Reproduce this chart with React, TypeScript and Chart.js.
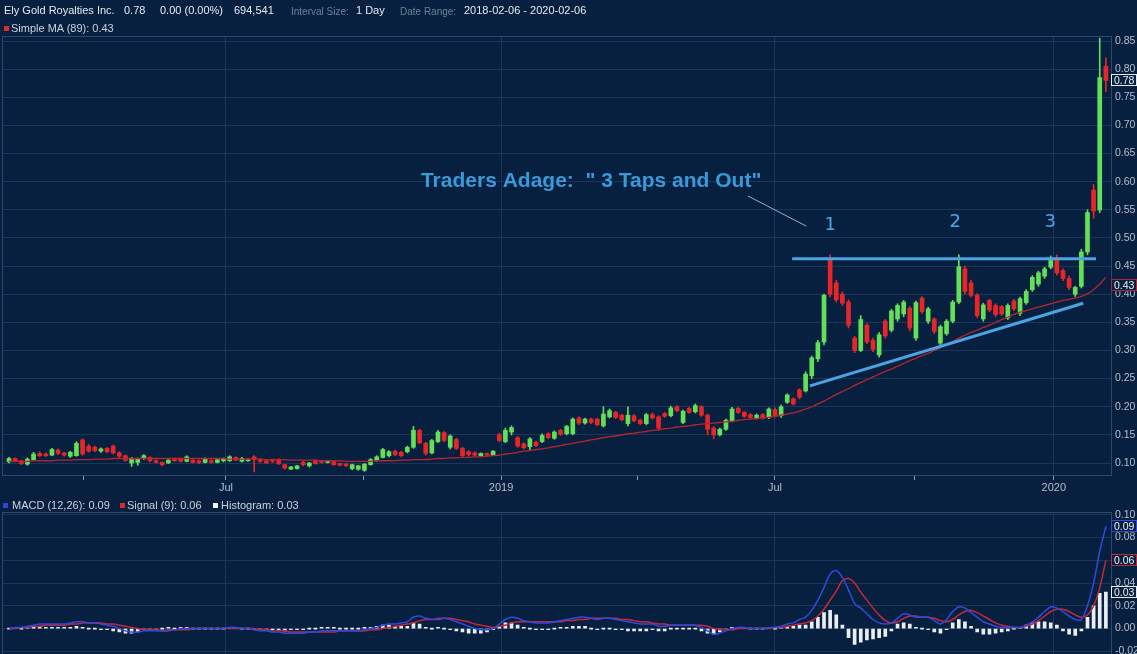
import React, { useEffect, useRef } from 'react';
import { Chart, registerables } from 'chart.js';

Chart.register(...registerables);

// ---------- DATA ----------
const opens = [
  0.102,0.108,0.104,0.098,0.106,0.117,0.116,0.114,0.123,0.118,
  0.112,0.113,0.141,0.130,0.128,0.121,0.126,0.130,0.118,0.113,
  0.100,0.101,0.108,0.110,0.104,0.101,0.100,0.107,0.107,0.103,
  0.105,0.104,0.101,0.104,0.101,0.104,0.104,0.110,0.103,0.104,
  0.111,0.106,0.104,0.106,0.106,0.097,0.089,0.090,0.101,0.095,
  0.104,0.104,0.101,0.102,0.099,0.098,0.090,0.089,0.087,0.097,
  0.104,0.110,0.113,0.121,0.119,0.120,0.128,0.158,0.135,0.118,
  0.138,0.154,0.128,0.142,0.126,0.120,0.118,0.113,0.117,0.114,
  0.150,0.138,0.155,0.145,0.134,0.129,0.137,0.138,0.152,0.144,
  0.158,0.152,0.152,0.180,0.171,0.178,0.178,0.166,0.182,0.190,
  0.185,0.170,0.184,0.176,0.170,0.186,0.182,0.188,0.184,0.200,
  0.172,0.197,0.191,0.200,0.185,0.162,0.150,0.160,0.175,0.197,
  0.190,0.186,0.180,0.186,0.181,0.195,0.184,0.208,0.214,0.230,
  0.228,0.255,0.285,0.315,0.461,0.420,0.400,0.386,0.322,0.300,
  0.345,0.318,0.292,0.352,0.336,0.356,0.365,0.375,0.322,0.393,
  0.352,0.356,0.313,0.330,0.352,0.386,0.445,0.420,0.398,0.356,
  0.389,0.380,0.378,0.358,0.388,0.366,0.385,0.408,0.418,0.432,
  0.448,0.462,0.442,0.428,0.400,0.414,0.475,0.585,0.550,0.805,
];
const highs = [
  0.110,0.109,0.105,0.109,0.119,0.120,0.118,0.126,0.125,0.119,
  0.121,0.138,0.143,0.133,0.130,0.127,0.128,0.132,0.120,0.114,
  0.110,0.109,0.115,0.111,0.106,0.102,0.106,0.109,0.108,0.113,
  0.106,0.105,0.109,0.106,0.108,0.109,0.113,0.111,0.110,0.108,
  0.113,0.108,0.105,0.107,0.108,0.098,0.094,0.096,0.103,0.101,
  0.106,0.105,0.105,0.103,0.100,0.099,0.098,0.096,0.099,0.108,
  0.113,0.126,0.122,0.123,0.121,0.130,0.165,0.160,0.137,0.142,
  0.158,0.156,0.150,0.144,0.128,0.122,0.120,0.118,0.118,0.122,
  0.153,0.162,0.166,0.147,0.136,0.145,0.139,0.152,0.154,0.157,
  0.160,0.167,0.180,0.182,0.180,0.180,0.180,0.200,0.196,0.192,
  0.187,0.200,0.186,0.178,0.188,0.189,0.184,0.190,0.201,0.202,
  0.194,0.199,0.205,0.202,0.187,0.165,0.162,0.178,0.199,0.199,
  0.192,0.188,0.187,0.188,0.198,0.198,0.203,0.223,0.216,0.232,
  0.262,0.290,0.318,0.400,0.470,0.425,0.404,0.390,0.325,0.362,
  0.348,0.322,0.332,0.355,0.373,0.383,0.389,0.378,0.388,0.396,
  0.377,0.358,0.345,0.355,0.389,0.470,0.450,0.425,0.401,0.384,
  0.391,0.383,0.380,0.383,0.391,0.395,0.408,0.433,0.441,0.448,
  0.468,0.470,0.445,0.432,0.414,0.480,0.550,0.595,0.855,0.820,
];
const lows = [
  0.100,0.102,0.097,0.096,0.105,0.111,0.111,0.113,0.115,0.112,
  0.110,0.112,0.114,0.119,0.120,0.119,0.118,0.116,0.110,0.103,
  0.094,0.096,0.106,0.102,0.100,0.095,0.099,0.103,0.102,0.102,
  0.100,0.099,0.100,0.100,0.100,0.102,0.103,0.104,0.102,0.103,
  0.084,0.101,0.099,0.101,0.097,0.089,0.088,0.089,0.095,0.093,
  0.098,0.100,0.100,0.096,0.095,0.094,0.088,0.087,0.085,0.096,
  0.103,0.109,0.111,0.113,0.111,0.118,0.126,0.134,0.114,0.116,
  0.136,0.138,0.125,0.124,0.110,0.112,0.112,0.112,0.113,0.113,
  0.138,0.136,0.150,0.128,0.125,0.122,0.129,0.136,0.143,0.142,
  0.149,0.150,0.150,0.168,0.169,0.170,0.166,0.164,0.180,0.179,
  0.175,0.166,0.173,0.168,0.168,0.178,0.158,0.181,0.182,0.191,
  0.170,0.188,0.189,0.183,0.150,0.143,0.148,0.158,0.173,0.188,
  0.181,0.179,0.178,0.178,0.179,0.182,0.181,0.206,0.203,0.214,
  0.226,0.250,0.280,0.310,0.395,0.386,0.380,0.340,0.296,0.298,
  0.312,0.298,0.288,0.322,0.333,0.352,0.360,0.335,0.318,0.366,
  0.348,0.330,0.308,0.327,0.349,0.383,0.400,0.395,0.358,0.352,
  0.369,0.360,0.362,0.355,0.371,0.362,0.382,0.405,0.414,0.428,
  0.445,0.434,0.424,0.408,0.396,0.411,0.470,0.535,0.545,0.760,
];
const closes = [
  0.108,0.104,0.099,0.107,0.116,0.113,0.113,0.124,0.117,0.114,
  0.119,0.135,0.116,0.121,0.122,0.125,0.120,0.118,0.112,0.105,
  0.108,0.107,0.113,0.104,0.101,0.097,0.105,0.104,0.103,0.111,
  0.101,0.101,0.107,0.101,0.106,0.108,0.111,0.105,0.108,0.106,
  0.106,0.103,0.100,0.103,0.099,0.091,0.093,0.095,0.097,0.100,
  0.099,0.101,0.104,0.097,0.096,0.095,0.097,0.095,0.098,0.106,
  0.111,0.124,0.120,0.115,0.113,0.128,0.158,0.136,0.117,0.140,
  0.155,0.140,0.148,0.126,0.113,0.115,0.114,0.117,0.114,0.121,
  0.140,0.158,0.163,0.130,0.127,0.143,0.131,0.149,0.145,0.155,
  0.151,0.165,0.178,0.171,0.178,0.172,0.168,0.187,0.193,0.181,
  0.177,0.185,0.175,0.170,0.186,0.180,0.162,0.183,0.198,0.193,
  0.192,0.190,0.202,0.185,0.160,0.150,0.160,0.176,0.196,0.190,
  0.183,0.181,0.185,0.180,0.196,0.184,0.200,0.221,0.205,0.217,
  0.258,0.287,0.314,0.398,0.400,0.390,0.384,0.345,0.300,0.355,
  0.315,0.302,0.328,0.326,0.370,0.380,0.386,0.340,0.385,0.369,
  0.374,0.334,0.342,0.352,0.386,0.449,0.405,0.398,0.362,0.381,
  0.372,0.364,0.365,0.380,0.374,0.392,0.405,0.430,0.438,0.445,
  0.460,0.438,0.428,0.412,0.412,0.475,0.545,0.548,0.785,0.780,
];
const sma89 = [
  0.103,0.103,0.103,0.103,0.104,0.104,0.104,0.104,0.105,0.105,
  0.105,0.106,0.106,0.106,0.107,0.107,0.107,0.108,0.108,0.108,
  0.108,0.108,0.108,0.108,0.108,0.108,0.108,0.108,0.108,0.108,
  0.108,0.108,0.108,0.108,0.108,0.108,0.107,0.107,0.107,0.107,
  0.107,0.107,0.106,0.106,0.106,0.106,0.105,0.105,0.105,0.105,
  0.105,0.104,0.104,0.104,0.104,0.103,0.103,0.103,0.103,0.103,
  0.104,0.104,0.104,0.104,0.105,0.105,0.106,0.106,0.106,0.107,
  0.108,0.108,0.109,0.109,0.110,0.110,0.111,0.111,0.112,0.113,
  0.114,0.116,0.117,0.119,0.121,0.122,0.124,0.125,0.127,0.129,
  0.131,0.133,0.135,0.137,0.139,0.141,0.143,0.145,0.147,0.148,
  0.150,0.152,0.153,0.155,0.156,0.158,0.159,0.161,0.162,0.164,
  0.165,0.166,0.168,0.169,0.170,0.171,0.172,0.173,0.174,0.176,
  0.177,0.178,0.179,0.180,0.181,0.183,0.185,0.187,0.189,0.192,
  0.196,0.200,0.205,0.210,0.216,0.222,0.227,0.232,0.238,0.243,
  0.248,0.253,0.258,0.263,0.267,0.272,0.277,0.282,0.286,0.291,
  0.295,0.300,0.305,0.311,0.316,0.322,0.327,0.332,0.336,0.341,
  0.345,0.350,0.355,0.359,0.364,0.368,0.371,0.374,0.377,0.380,
  0.383,0.386,0.389,0.391,0.393,0.396,0.401,0.408,0.418,0.430,
];
const macdLine = [
  0.000,0.001,0.001,0.002,0.003,0.004,0.004,0.004,0.004,0.004,
  0.005,0.006,0.006,0.005,0.005,0.004,0.003,0.002,0.000,-0.002,
  -0.003,-0.003,-0.002,-0.002,-0.002,-0.002,-0.001,-0.001,0.000,0.000,
  0.000,0.000,0.000,0.000,0.000,0.000,0.001,0.001,0.000,0.000,
  -0.001,-0.002,-0.002,-0.003,-0.003,-0.004,-0.004,-0.004,-0.004,-0.003,
  -0.003,-0.002,-0.002,-0.002,-0.002,-0.002,-0.002,-0.002,-0.001,0.000,
  0.001,0.003,0.004,0.004,0.005,0.006,0.010,0.011,0.009,0.008,
  0.009,0.009,0.008,0.006,0.004,0.002,0.000,-0.001,-0.001,0.000,
  0.004,0.008,0.010,0.009,0.007,0.006,0.005,0.005,0.005,0.006,
  0.007,0.008,0.009,0.010,0.010,0.009,0.008,0.009,0.009,0.008,
  0.007,0.006,0.005,0.004,0.004,0.004,0.002,0.002,0.003,0.003,
  0.003,0.003,0.003,0.001,-0.002,-0.005,-0.004,-0.002,0.000,0.001,
  0.001,0.000,0.000,0.000,0.001,0.001,0.002,0.004,0.005,0.008,
  0.010,0.016,0.025,0.036,0.048,0.051,0.045,0.034,0.022,0.018,
  0.013,0.008,0.005,0.004,0.005,0.009,0.013,0.012,0.010,0.010,
  0.010,0.007,0.004,0.008,0.015,0.019,0.018,0.014,0.010,0.006,
  0.004,0.002,0.001,0.001,0.001,0.001,0.003,0.006,0.010,0.015,
  0.019,0.018,0.015,0.011,0.008,0.008,0.020,0.040,0.068,0.090,
];
const signalLine = [
  0.000,0.000,0.001,0.001,0.002,0.002,0.003,0.003,0.003,0.003,
  0.004,0.004,0.005,0.005,0.005,0.005,0.004,0.004,0.003,0.002,
  0.001,0.000,-0.001,-0.001,-0.001,-0.002,-0.002,-0.001,-0.001,-0.001,
  0.000,0.000,0.000,0.000,0.000,0.000,0.000,0.000,0.000,0.000,
  0.000,-0.001,-0.001,-0.002,-0.002,-0.002,-0.003,-0.003,-0.003,-0.003,
  -0.003,-0.003,-0.003,-0.003,-0.002,-0.002,-0.002,-0.002,-0.002,-0.001,
  -0.001,0.000,0.001,0.002,0.003,0.004,0.005,0.007,0.008,0.008,
  0.008,0.009,0.009,0.008,0.007,0.006,0.004,0.003,0.002,0.001,
  0.002,0.003,0.005,0.006,0.006,0.006,0.006,0.006,0.006,0.006,
  0.006,0.007,0.007,0.008,0.008,0.009,0.009,0.009,0.009,0.009,
  0.008,0.008,0.007,0.006,0.006,0.005,0.004,0.004,0.003,0.003,
  0.003,0.003,0.003,0.003,0.002,0.000,-0.001,-0.001,-0.001,0.000,
  0.000,0.000,0.000,0.000,0.000,0.001,0.001,0.002,0.003,0.004,
  0.005,0.007,0.011,0.017,0.025,0.033,0.042,0.044,0.040,0.032,
  0.025,0.018,0.012,0.007,0.005,0.006,0.009,0.011,0.011,0.010,
  0.010,0.009,0.007,0.006,0.008,0.012,0.015,0.016,0.014,0.011,
  0.008,0.005,0.003,0.002,0.001,0.001,0.002,0.004,0.007,0.011,
  0.015,0.017,0.017,0.015,0.012,0.010,0.012,0.020,0.036,0.060,
];
const histogram = [
  0.000,0.001,0.000,0.001,0.001,0.002,0.001,0.001,0.001,0.001,
  0.001,0.002,0.001,0.000,0.000,-0.001,-0.001,-0.002,-0.003,-0.004,
  -0.004,-0.003,-0.001,-0.001,-0.001,0.000,0.001,0.000,0.001,0.001,
  0.000,0.000,0.000,0.000,0.000,0.000,0.001,0.001,0.000,0.000,
  -0.001,-0.001,-0.001,-0.001,-0.001,-0.002,-0.001,-0.001,-0.001,0.000,
  0.000,0.001,0.001,0.001,0.000,0.000,0.000,0.000,0.001,0.001,
  0.002,0.003,0.003,0.002,0.002,0.002,0.005,0.004,0.001,0.000,
  0.001,0.000,-0.001,-0.002,-0.003,-0.004,-0.004,-0.004,-0.003,-0.001,
  0.002,0.005,0.005,0.003,0.001,0.000,-0.001,-0.001,-0.001,0.000,
  0.001,0.001,0.002,0.002,0.002,0.000,-0.001,0.000,0.000,-0.001,
  -0.001,-0.002,-0.002,-0.002,-0.002,-0.001,-0.002,-0.002,0.000,0.000,
  0.000,0.000,0.000,-0.002,-0.004,-0.005,-0.003,-0.001,0.001,0.001,
  0.001,0.000,0.000,0.000,0.001,0.000,0.001,0.002,0.002,0.003,
  0.003,0.006,0.010,0.014,0.016,0.012,0.003,-0.008,-0.014,-0.012,
  -0.010,-0.009,-0.008,-0.007,-0.002,0.004,0.005,0.004,0.001,0.000,
  -0.001,-0.003,-0.004,-0.001,0.005,0.008,0.006,0.002,-0.003,-0.005,
  -0.005,-0.004,-0.003,-0.002,0.000,0.001,0.003,0.005,0.006,0.006,
  0.005,0.003,-0.002,-0.005,-0.006,-0.002,0.010,0.020,0.031,0.032,
];

const priceTicks = [0.10, 0.15, 0.20, 0.25, 0.30, 0.35, 0.40, 0.45, 0.50, 0.55, 0.60, 0.65, 0.70, 0.75, 0.80, 0.85];
const macdTicks = [-0.02, 0.0, 0.02, 0.04, 0.06, 0.08, 0.10];
const xMajorTicks = [35.4, 80.3, 125, 170.5];
const xMajorLabels = ['Jul', '2019', 'Jul', '2020'];
const xMinorTicks = [12.2, 57.8, 102.5, 147.8];

const resistanceLine = [{ x: 127.8, y: 0.463 }, { x: 177.4, y: 0.463 }];
const supportLine = [{ x: 130.7, y: 0.237 }, { x: 175.3, y: 0.384 }];
const pointerLine = [{ x: 120.6, y: 0.5745 }, { x: 130.1, y: 0.521 }];
const noteText = { x: 95, y: 0.601, text: 'Traders Adage:  " 3 Taps and Out"' };
const tapMarks = [
  { x: 134, y: 0.523, text: '1' },
  { x: 154.4, y: 0.527, text: '2' },
  { x: 169.9, y: 0.527, text: '3' },
];

// ---------- STYLE ----------
const BG = '#08203f';
const GRID = '#1b3658';
const FRAME = '#2d4a6e';
const TICK = '#b4bfcc';
const GREEN = '#63e05a';
const RED = '#e8262a';
const MA_RED = '#b3262f';
const ANNOT = '#4ca3e2';
const MACD_BLUE = '#2f4ade';
const SIG_RED = '#c4283a';
const FONT = '"Liberation Sans", Arial, sans-serif';
const X_MIN = -1.15;
const X_MAX = 180;

Chart.defaults.font.family = FONT;

const framePlugin = {
  id: 'frame',
  beforeDatasetsDraw(chart: any) {
    const { ctx, chartArea: a } = chart;
    ctx.save();
    ctx.strokeStyle = FRAME;
    ctx.lineWidth = 1;
    ctx.strokeRect(Math.round(a.left) + 0.5, Math.round(a.top) + 0.5, Math.round(a.right - a.left) - 1, Math.round(a.bottom - a.top) - 1);
    ctx.restore();
  },
};

function drawBox(chart: any, value: number, text: string, border: string, dy = 0) {
  const { ctx, chartArea: a } = chart;
  const yPix = chart.scales.y.getPixelForValue(value) + dy;
  const left = Math.round(a.right) - 1;
  const right = chart.width;
  const h = 12;
  ctx.save();
  ctx.fillStyle = BG;
  ctx.fillRect(left, yPix - h / 2, right - left, h);
  ctx.strokeStyle = border;
  ctx.lineWidth = 1;
  ctx.strokeRect(left + 0.5, Math.round(yPix - h / 2) + 0.5, right - left - 1, h - 1);
  ctx.fillStyle = '#e9eef4';
  ctx.font = `10.5px ${FONT}`;
  ctx.textAlign = 'left';
  ctx.textBaseline = 'middle';
  ctx.fillText(text, left + 3, yPix + 0.5);
  ctx.restore();
}

const mainOverlay = {
  id: 'mainOverlay',
  afterDatasetsDraw(chart: any) {
    const { ctx, scales } = chart;
    const x = scales.x;
    const y = scales.y;
    ctx.save();
    ctx.fillStyle = '#3a9ad9';
    ctx.font = `bold 21px ${FONT}`;
    ctx.textAlign = 'center';
    ctx.textBaseline = 'middle';
    ctx.fillText(noteText.text, x.getPixelForValue(noteText.x), y.getPixelForValue(noteText.y));
    ctx.fillStyle = '#4aa8e6';
    ctx.font = `18px "DejaVu Sans", sans-serif`;
    tapMarks.forEach((m) => ctx.fillText(m.text, x.getPixelForValue(m.x), y.getPixelForValue(m.y)));
    ctx.restore();
  },
  afterDraw(chart: any) {
    drawBox(chart, closes[closes.length - 1], closes[closes.length - 1].toFixed(2), '#e6ecf2');
    drawBox(chart, sma89[sma89.length - 1], sma89[sma89.length - 1].toFixed(2), MA_RED, 8);
  },
};

const macdOverlay = {
  id: 'macdOverlay',
  afterDraw(chart: any) {
    const n = macdLine.length - 1;
    drawBox(chart, macdLine[n], macdLine[n].toFixed(2), MACD_BLUE);
    drawBox(chart, signalLine[n], signalLine[n].toFixed(2), SIG_RED);
    drawBox(chart, histogram[n], histogram[n].toFixed(2), '#e6ecf2');
  },
};

function xScale(showLabels: boolean): any {
  const all = [...xMinorTicks, ...xMajorTicks].sort((a, b) => a - b);
  return {
    type: 'linear',
    min: X_MIN,
    max: X_MAX,
    offset: false,
    afterBuildTicks: (s: any) => {
      s.ticks = all.map((v) => ({ value: v }));
    },
    afterFit: (s: any) => {
      s.height = showLabels ? 24 : 0;
    },
    border: { display: false },
    grid: {
      offset: false,
      color: (c: any) => (c.tick && xMajorTicks.includes(c.tick.value) ? GRID : 'rgba(0,0,0,0)'),
      tickColor: '#8a9bb0',
      tickLength: 4,
      drawTicks: showLabels,
    },
    ticks: {
      display: showLabels,
      autoSkip: false,
      maxRotation: 0,
      padding: 1,
      color: TICK,
      font: { size: 11 },
      callback: (v: any) => {
        const k = xMajorTicks.indexOf(v);
        return k >= 0 ? xMajorLabels[k] : '';
      },
    },
  };
}

function yScale(min: number, max: number, ticks: number[]): any {
  return {
    position: 'right',
    min,
    max,
    afterBuildTicks: (s: any) => {
      s.ticks = ticks.map((v) => ({ value: v }));
    },
    afterFit: (s: any) => {
      s.width = 25;
    },
    border: { display: false },
    grid: { color: GRID, drawTicks: false },
    ticks: {
      padding: 3,
      color: TICK,
      font: { size: 10.5 },
      callback: (v: any) => Number(v).toFixed(2),
    },
  };
}

export default function App() {
  const mainRef = useRef<HTMLCanvasElement>(null);
  const macdRef = useRef<HTMLCanvasElement>(null);

  useEffect(() => {
    const idx = closes.map((_, i) => i);
    const colors = idx.map((i) => (closes[i] >= opens[i] ? GREEN : RED));

    const main = new Chart(mainRef.current as HTMLCanvasElement, {
      type: 'bar',
      data: {
        datasets: [
          { type: 'line', data: resistanceLine, borderColor: ANNOT, borderWidth: 3, pointRadius: 0, order: 0 } as any,
          { type: 'line', data: supportLine, borderColor: ANNOT, borderWidth: 3, pointRadius: 0, order: 0 } as any,
          { type: 'line', data: pointerLine, borderColor: '#8fb3d3', borderWidth: 1, pointRadius: 0, order: 0 } as any,
          {
            type: 'line',
            data: idx.map((i) => ({ x: i, y: sma89[i] })),
            borderColor: MA_RED,
            borderWidth: 1.3,
            pointRadius: 0,
            tension: 0.3,
            order: 1,
          } as any,
          {
            type: 'bar',
            data: idx.map((i) => ({ x: i, y: [opens[i], closes[i]] })),
            backgroundColor: colors,
            barThickness: 4,
            minBarLength: 1,
            grouped: false,
            order: 2,
          } as any,
          {
            type: 'bar',
            data: idx.map((i) => ({ x: i, y: [lows[i], highs[i]] })),
            backgroundColor: colors,
            barThickness: 1,
            grouped: false,
            order: 3,
          } as any,
        ],
      },
      options: {
        animation: false,
        responsive: false,
        maintainAspectRatio: false,
        events: [],
        layout: { padding: { top: 36, left: 2, right: 0, bottom: 0 } },
        plugins: { legend: { display: false }, tooltip: { enabled: false } },
        scales: {
          x: xScale(true),
          y: yScale(0.0769, 0.8589, priceTicks),
        },
      } as any,
      plugins: [framePlugin, mainOverlay],
    });

    const macd = new Chart(macdRef.current as HTMLCanvasElement, {
      type: 'bar',
      data: {
        datasets: [
          {
            type: 'line',
            data: idx.map((i) => ({ x: i, y: macdLine[i] })),
            borderColor: MACD_BLUE,
            borderWidth: 1.5,
            pointRadius: 0,
            tension: 0.3,
            order: 0,
          } as any,
          {
            type: 'line',
            data: idx.map((i) => ({ x: i, y: signalLine[i] })),
            borderColor: SIG_RED,
            borderWidth: 1.5,
            pointRadius: 0,
            tension: 0.3,
            order: 1,
          } as any,
          {
            type: 'bar',
            data: idx.map((i) => ({ x: i, y: histogram[i] })),
            backgroundColor: '#e9eef2',
            barThickness: 3,
            minBarLength: 1,
            grouped: false,
            order: 2,
          } as any,
        ],
      },
      options: {
        animation: false,
        responsive: false,
        maintainAspectRatio: false,
        events: [],
        layout: { padding: { top: 12, left: 2, right: 0, bottom: 0 } },
        plugins: { legend: { display: false }, tooltip: { enabled: false } },
        scales: {
          x: xScale(false),
          y: yScale(-0.03, 0.1025, macdTicks),
        },
      } as any,
      plugins: [framePlugin, macdOverlay],
    });

    return () => {
      main.destroy();
      macd.destroy();
    };
  }, []);

  const txt = (left: number, top: number, text: string, color: string, size = 11) => (
    <span style={{ position: 'absolute', left, top, color, fontSize: size, lineHeight: '13px', whiteSpace: 'pre' }}>{text}</span>
  );
  const sq = (left: number, top: number, color: string) => (
    <span style={{ position: 'absolute', left, top, width: 5, height: 5, background: color }} />
  );
  const W = '#e4eaf1';
  const G = '#6f8196';

  return (
    <div
      style={{
        position: 'fixed',
        left: 0,
        top: 0,
        width: 1137,
        height: 654,
        overflow: 'hidden',
        background: BG,
        fontFamily: FONT,
      }}
    >
      <canvas ref={mainRef} width={1137} height={500} style={{ position: 'absolute', left: 0, top: 0, width: 1137, height: 500 }} />
      <canvas ref={macdRef} width={1137} height={172} style={{ position: 'absolute', left: 0, top: 500, width: 1137, height: 172 }} />
      {txt(4, 4, 'Ely Gold Royalties Inc.', W)}
      {txt(124, 4, '0.78', W)}
      {txt(160, 4, '0.00 (0.00%)', W)}
      {txt(234, 4, '694,541', W)}
      {txt(291, 4.5, 'Interval Size:', G, 10)}
      {txt(356, 4, '1 Day', W)}
      {txt(400, 4.5, 'Date Range:', G, 10)}
      {txt(464, 4, '2018-02-06 - 2020-02-06', W)}
      {sq(4, 26, '#d92b2b')}
      {txt(11, 22, 'Simple MA (89): 0.43', '#c9d2dc')}
      {sq(3, 503, '#3044d8')}
      {txt(12, 499, 'MACD (12,26): 0.09', '#c9d2dc')}
      {sq(120, 503, '#d92b2b')}
      {txt(127, 499, 'Signal (9): 0.06', '#c9d2dc')}
      {sq(213, 503, '#f2f4f6')}
      {txt(221, 499, 'Histogram: 0.03', '#c9d2dc')}
    </div>
  );
}
